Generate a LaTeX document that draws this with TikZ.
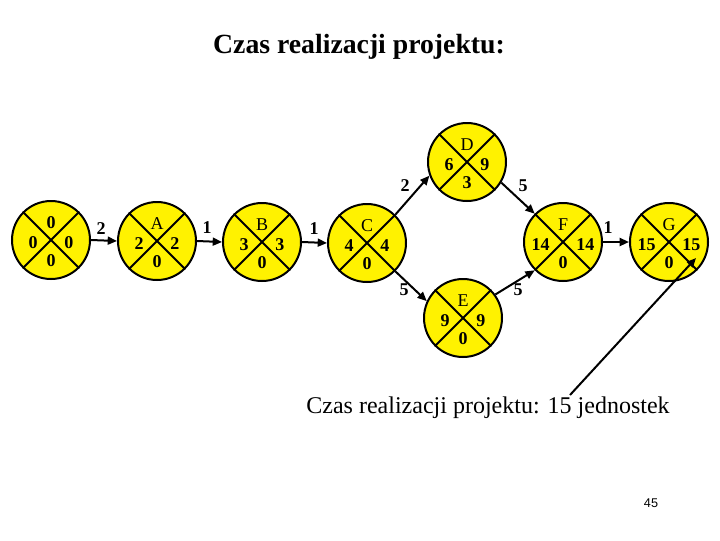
\documentclass[tikz,border=0pt]{standalone}
\usepackage{fontspec}
\setmainfont{Liberation Serif}
\newfontfamily\pagefont{Liberation Sans}
\usetikzlibrary{calc,arrows.meta}
\begin{document}
\begin{tikzpicture}[x=0.75pt,y=-0.75pt,
  ev/.style={circle,draw=black,fill=yellow,line width=1.5pt,minimum size=58.5pt,inner sep=0pt},
  xline/.style={line width=1.5pt},
  lab/.style={inner sep=0pt,font=\fontsize{13.5}{13.5}\selectfont\bfseries},
  let/.style={inner sep=0pt,font=\fontsize{13.5}{13.5}\selectfont},
  elab/.style={inner sep=0pt,font=\fontsize{13.5}{13.5}\selectfont\bfseries},
  edge/.style={line width=1.5pt,-{Triangle[length=7pt,width=6pt]}},
  edgeplain/.style={line width=1.5pt}]
\useasboundingbox (0,0) rectangle (720,540);
\newcommand\evnode[6]{%
  \node[ev] (#1) at (#2) {};
  \draw[xline] (#1.45) -- (#1.225) (#1.135) -- (#1.315);
  \node[let] (#1t) at ($(#1)+(0,-17)$) {#3};
  \node[lab,anchor=east] (#1l) at ($(#1)+(-13,3)$) {#4};
  \node[lab,anchor=west] (#1r) at ($(#1)+(13,3)$) {#5};
  \node[lab] (#1b) at ($(#1)+(0,21)$) {#6};
}
\node[font=\fontsize{20.8}{20.8}\selectfont\bfseries] (title) at (359,47) {Czas realizacji projektu:};
\evnode{S}{51,240}{\bfseries 0}{0}{0}{0}
\evnode{A}{157,241}{A}{2}{2}{0}
\evnode{B}{262,242}{B}{3}{3}{0}
\evnode{C}{367,243}{C}{4}{4}{0}
\evnode{D}{467,162}{D}{6}{9}{3}
\evnode{E}{463,318}{E}{9}{9}{0}
\evnode{F}{563,242}{F}{14}{14}{0}
\evnode{G}{669,242}{G}{15}{15}{0}
\draw[edge] (S.east) -- (A.west);
\draw[edge] (A.east) -- (B.west);
\draw[edge] (B.east) -- (C.west);
\draw[edge] (C.45) -- (D.200);
\draw[edge] (D.329) -- (F.135);
\draw[edge] (C.315) -- (E.155);
\draw[edge] (E.36) -- (F.225);
\draw[edge] (F.east) -- (G.west);
\node[elab] (l1) at (101,229) {2};
\node[elab] (l2) at (207,228) {1};
\node[elab] (l3) at (314,229) {1};
\node[elab] (l4) at (405,186) {2};
\node[elab] (l5) at (523,186) {5};
\node[elab] (l6) at (404,290) {5};
\node[elab] (l7) at (518,290) {5};
\node[elab] (l8) at (608,228) {1};
\node[font=\fontsize{18}{18}\selectfont] (res) at (488,408) {Czas realizacji projektu: 15 jednostek};
\coordinate (tail) at (570,395);
\coordinate (tip) at (696,258);
\draw[edge] (tail) -- (tip);
\node[font=\pagefont\fontsize{9.5}{9.5}\selectfont] (pg) at (651,503) {45};
\end{tikzpicture}
\end{document}
